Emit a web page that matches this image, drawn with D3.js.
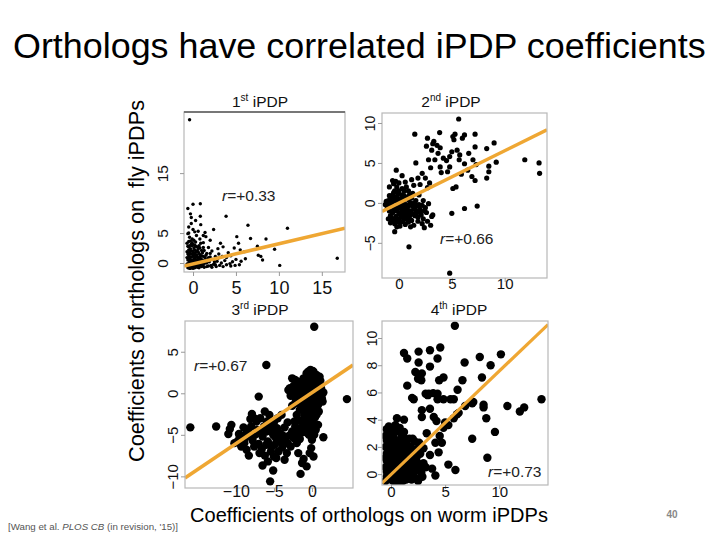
<!DOCTYPE html>
<html><head><meta charset="utf-8">
<script src="https://cdn.jsdelivr.net/npm/d3@7"></script>
<style>body{margin:0;background:#fff}svg{display:block}text{font-family:"Liberation Sans",Arial,sans-serif}</style>
</head><body>
<svg id="c" width="720" height="540"></svg>
<script>
// ---------- data ----------
const panelTitles = ["1", "2", "3", "4"];
const panelSup = ["st", "nd", "rd", "th"];
const rLabels = ["+0.33", "+0.66", "+0.67", "+0.73"];
// regression lines: [intercept, slope]
const fitLines = [[-0.15, 0.336], [-0.02, 0.655], [0.08, 0.615], [-0.03, 0.76]];
const xTicks = [[0, 5, 10, 15], [0, 5, 10], [-10, -5, 0], [0, 5, 10]];
const yTicks = [[0, 5, 15], [-5, 0, 5, 10], [-10, -5, 0, 5], [0, 2, 4, 6, 8, 10]];

const p1 = [[-0.4,23.9],[0,9.8],[0.85,9.9],[-0.3,8.2],[0.85,7.8],[3.85,7.8],[6.4,6.3],[11.0,5.8],[16.8,0.8],[10.1,-0.4],[9.5,2.3],[8.5,4.0],[6.7,4.1],[7.5,2.8],[5.1,4.4],[5.3,3.3],[5.5,2.2],[5.6,0.3],[7.6,1.3],[8.1,0.5],[7.9,1.1],[2.4,5.6],[1.5,4.4],[3.2,3.3],[3.5,2.7],[4.1,1.7],[0.9,6.4],[4.6,0.2],[4.3,-0.1],[3.3,0.0],[2.8,0.3],[6.1,0.7],[3.9,0.9],[2.2,2.0],[2.6,1.1],[1.8,2.6],[1.2,3.4],[2.0,3.8],[0.6,5.3],[-0.2,6.6],[0.3,7.1],[-0.5,5.0],[4.8,2.5],[6.0,1.9],[1.6,1.6],[3.0,1.5],[2.4,-0.2],[1.9,0.2],[3.7,0.4],[5.0,0.6],[4.4,1.2],[2.9,2.4],[1.4,5.1],[0.4,4.6],
[-0.6,-0.8],[-0.5,-0.3],[-0.4,0.2],[-0.3,0.6],[-0.2,1.0],[-0.1,1.5],[0.0,2.0],[0.1,2.5],[0.2,3.0],[0.3,3.5],[-0.6,0.5],[-0.5,1.2],[-0.4,1.8],[-0.3,2.4],[-0.2,3.2],[-0.1,4.0],[0.0,-0.5],[0.1,-0.1],[0.2,0.4],[0.3,0.9],[0.4,1.4],[0.5,1.9],[0.6,2.4],[0.7,2.9],[0.8,0.2],[0.9,0.7],[1.0,1.2],[1.1,1.7],[1.2,-0.3],[1.3,0.3],[0.5,-0.7],[0.7,-0.4],[0.9,-0.2],[1.1,0.5],[-0.6,2.8],[-0.5,3.6],[-0.4,4.3],[-0.3,-0.9],[-0.1,-0.6],[0.2,-0.8],[0.4,-0.3],[0.6,0.1],[0.8,1.0],[1.0,2.1],[1.2,2.6],[0.3,1.2],[0.1,0.7],[-0.2,0.1],[0.0,0.4],[0.4,0.0],[0.6,0.8],[-0.4,-0.5],[0.2,1.7],[0.5,2.7],[-0.1,2.9],[0.9,3.3],[1.4,0.9],[1.6,0.0],[1.8,-0.5],[1.5,1.3],[1.7,0.6],[2.0,1.0],[2.1,-0.4],[2.3,0.6],[2.6,-0.3],[2.0,1.6],[-0.5,2.2],[0.7,1.6],[1.3,2.1],[0.0,1.1],[-0.3,1.5],[0.3,-0.4],[1.0,-0.6],[0.1,3.8],[0.8,4.0],[-0.6,4.9],[0.0,5.6],
[-0.7,-0.2],[-0.7,0.9],[-0.7,1.9],[-0.7,3.3],[-0.6,-0.1],[-0.6,1.5],[-0.5,0.7],[-0.5,2.7],[-0.4,-0.9],[-0.4,1.0],[-0.4,2.9],[-0.3,0.1],[-0.3,3.7],[-0.2,-0.4],[-0.2,2.0],[-0.1,0.4],[-0.1,3.4],[0.0,-0.9],[0.0,1.6],[0.0,3.1],[0.1,0.1],[0.1,1.3],[0.2,-0.2],[0.2,2.2],[0.3,0.5],[0.3,2.8],[0.4,-0.6],[0.4,2.0],[0.5,0.4],[0.5,1.1],[0.6,-0.3],[0.6,1.9],[0.7,0.6],[0.7,-0.8],[0.8,1.4],[0.8,2.5],[0.9,-0.5],[1.0,0.4],[1.1,-0.1],[1.2,1.1],[1.3,-0.7],[1.4,0.0],[1.5,0.5],[1.6,-0.6],[1.8,0.9],[2.2,-0.7],[2.5,0.2],[2.7,-0.6],[3.1,-0.4],[3.5,-0.6],[3.9,-0.3],[4.4,-0.5],[4.9,-0.4],[5.4,-0.3],[2.9,0.8],[3.4,1.1],[1.2,4.6],[-0.5,6.0],[0.2,5.2],[-0.2,7.6],[-0.6,9.1]];

const p2 = [[5.65,10.5],[1.5,8.6],[3.85,8.8],[2.7,8.1],[3.3,7.7],[3.6,7.2],[5.1,8.3],[5.3,8.6],[5.2,7.9],[6.2,8.5],[6.0,8.1],[7.2,8.6],[7.2,7.0],[8.3,6.8],[9.0,7.5],[11.9,5.4],[13.25,5.0],[13.3,3.7],[9.2,5.1],[8.5,4.6],[8.5,3.9],[8.3,3.1],[7.4,-0.4],[6.2,-0.7],[5.0,-1.3],[5.4,2.0],[5.1,1.8],[0.95,-5.5],[4.8,-8.8],[3.2,-1.5],[3.1,-1.7],[2.4,-3.1],[2.2,-2.6],[1.6,5.0],[1.8,3.1],[2.2,3.7],[2.5,3.1],[2.8,5.4],[3.4,5.4],[3.7,6.2],[3.1,6.6],[3.2,7.4],[3.9,4.5],[4.2,5.6],[4.5,5.3],[4.8,5.8],[4.8,4.5],[4.6,3.9],[5.7,5.4],[5.75,6.0],[5.5,6.6],[6.2,4.9],[6.5,4.1],[7.0,5.4],[7.3,4.8],[6.9,3.3],[7.2,2.8],[5.9,3.6],[4.0,3.8],[3.0,4.4],[2.6,7.1],[3.9,6.9],[5.0,6.4],[6.6,6.2],[-0.25,4.1],[0.3,3.4],[1.2,2.9],[2.0,2.3],[2.9,2.5],
[-1.3,-0.2],[-1.0,0.3],[-0.8,0.6],[-0.6,1.0],[-0.4,1.5],[-0.2,2.0],[0.0,2.5],[-0.6,2.8],[-0.3,2.7],[-1.1,-0.6],[-0.9,-1.0],[-0.7,-0.3],[-0.5,0.2],[-0.3,-0.6],[-0.1,0.0],[0.1,0.5],[0.3,1.0],[0.5,1.5],[0.7,2.0],[0.9,0.4],[1.1,0.0],[1.3,-0.4],[1.5,-0.8],[1.7,-1.2],[1.9,-0.2],[2.1,-1.5],[2.3,-2.0],[2.5,-0.6],[-0.8,-1.6],[-0.6,-2.1],[-0.4,-2.6],[-0.2,-3.0],[0.0,-1.4],[0.2,-1.8],[0.4,-2.3],[0.6,-2.7],[0.8,-1.0],[1.0,-1.6],[1.2,-2.2],[1.4,-2.8],[-0.4,-3.6],[0.1,-2.9],[0.6,-0.5],[0.2,-0.3],[-0.2,0.8],[0.4,0.2],[0.8,-2.0],[1.6,0.3],[1.8,-1.8],[2.0,-0.8],[-1.0,-2.0],[-0.6,-1.2],[0.0,0.0],[0.3,-1.0],[0.5,-1.3],[0.7,-0.2],[1.0,1.0],[-0.3,-1.7],[1.2,0.6],[1.5,-1.6],[0.9,-2.4],[-0.1,-2.4],[0.3,1.8],[-0.5,2.4],[0.6,2.6],[1.1,-3.0],[2.3,0.3],[1.9,1.0],[2.6,-1.2],[-0.8,-2.5],[0.0,1.5],[0.5,0.9],
[-1.2,0.2],[-1.0,-0.3],[-0.9,0.9],[-0.7,0.1],[-0.7,-1.9],[-0.5,-0.8],[-0.5,1.3],[-0.3,0.3],[-0.3,-2.1],[-0.2,-1.0],[-0.1,1.1],[0.0,-0.6],[0.0,-2.0],[0.1,-1.2],[0.2,0.0],[0.2,-2.4],[0.3,-0.5],[0.4,-1.5],[0.4,0.6],[0.5,-0.2],[0.5,-2.0],[0.6,-1.0],[0.7,-1.6],[0.7,0.7],[0.8,-0.6],[0.9,-1.3],[1.0,-0.3],[1.0,-2.0],[1.1,-1.0],[1.2,-0.1],[1.3,-1.4],[1.4,-0.6],[1.5,0.0],[1.6,-1.0],[1.7,-0.4],[1.8,-2.3],[2.0,-1.2],[2.2,-0.3],[2.4,-1.0],[2.7,-2.3],[1.3,1.2],[0.9,1.5],[-0.9,2.0],[-0.4,0.6],[0.1,0.2],[2.8,-0.1],[3.0,-2.8],[2.7,1.9],[1.4,2.2]];

const p3 = [[0.3,8.0],[-6.0,3.4],[4.6,-0.7],[-16.0,-4.1],[-12.6,-4.0],[-10.8,-4.3],[-11.0,-4.9],[-10.6,-3.8],[-7.0,-0.4],[-5.5,-10.6],[-5.1,-9.3],[-6.5,-8.7],[-1.5,-9.7],[-1.3,-8.4],[-1.1,-7.9],[-0.7,-8.8],[0.2,-7.6],[-0.1,-6.6],[-0.3,-7.2],[1.5,-5.3],[-7.9,-2.5],[-7.6,-3.0],[-8.1,-3.1],[-7.3,-3.4],[-2.6,1.8],[-2.2,1.6],[-0.5,2.6],[-0.2,2.8],[0.2,2.6],[-9.8,-5.8],[-9.3,-6.4],[-8.6,-6.8],[-8.3,-7.5],[-9.6,-4.9],[-9.0,-4.1],[-8.4,-4.5],[-8.8,-5.4],[-7.8,-5.7],[-7.0,-6.1],[-6.6,-6.7],[-6.2,-7.5],[-5.8,-8.2],[-5.0,-7.6],[-4.4,-7.0],[-3.9,-6.5],[-3.5,-5.8],[-3.0,-5.1],[-2.6,-4.6],[-2.2,-4.0],[-2.8,-6.4],[-2.0,-6.0],[-1.6,-5.5],[-1.2,-4.7],[-0.8,-4.2],[-0.4,-5.0],[0.0,-5.6],[-5.5,-4.0],[-5.0,-3.5],[-4.5,-3.0],[-4.0,-2.6],[-6.0,-4.6],[-6.5,-5.2],[-5.8,-5.8],[-5.3,-6.4],[-4.8,-5.3],[-4.2,-4.8],[-3.6,-4.1],[-3.2,-3.5],[-6.8,-3.0],[-6.2,-2.2],[-5.6,-2.6],[-4.0,-5.7],[-3.3,-7.2],[-1.8,-7.2],[-7.2,-4.4],[-8.0,-4.0],[-10.2,-6.0],[-6.0,-6.2],[-5.1,-5.0],[-4.6,-4.2],[0.8,-3.8],[0.5,-4.4],[-0.9,-2.8],[-1.5,-3.3],
[-2.5,0.2],[-2.0,0.5],[-1.6,0.2],[-1.2,0.8],[-0.8,1.4],[-0.4,2.0],[0.0,2.3],[0.4,1.8],[0.8,1.2],[1.2,0.6],[1.5,0.1],[-1.8,-0.6],[-1.4,-1.0],[-1.0,-0.4],[-0.6,0.2],[-0.2,0.8],[0.2,1.0],[0.6,0.4],[1.0,-0.2],[-1.2,-1.8],[-0.8,-1.3],[-0.4,-0.7],[0.0,-0.2],[0.4,-0.8],[0.8,-1.4],[-0.6,-2.2],[-0.2,-1.6],[0.2,-2.0],[0.6,-2.6],[-0.4,-3.0],[0.0,-3.4],[-1.0,-2.6],[-1.6,-2.0],[-2.2,-1.2],[-2.8,-0.3],[-3.1,0.4],[-0.2,1.6],[0.3,0.2],[-0.9,0.5],[1.1,1.5],[-0.1,-1.1],[0.5,-1.5],[-1.3,0.0],[0.9,0.3],[-0.5,1.1],[0.1,2.7],[-0.7,2.4],[-1.5,1.1],[-2.2,-0.5],[0.7,-0.6],[1.3,-0.6],[-0.3,0.5],[0.0,0.9],[-1.8,0.9],[-2.6,-1.5],[-1.2,-3.5],[0.3,-3.8],[-0.8,-4.6],
[-2.0,-0.2],[-1.6,-0.5],[-1.2,0.3],[-0.9,-0.2],[-0.7,0.9],[-0.5,-0.4],[-0.3,1.3],[-0.1,0.2],[0.1,-0.5],[0.3,0.7],[0.5,1.3],[0.6,-0.1],[0.8,-0.6],[1.0,0.8],[1.2,0.0],[1.4,-1.0],[0.2,-1.3],[-0.6,-1.0],[-1.0,-1.3],[-1.4,-1.4],[-0.3,-2.5],[0.4,-2.9],[-0.9,-3.4],[0.0,-4.2],[-0.5,-4.8],[0.3,-5.0],[-1.8,1.4],[-2.4,0.9],[-2.9,0.6],[-1.1,1.8],[-0.3,2.4],[0.6,2.2],[1.0,2.0],[0.9,-2.2],[-0.1,-3.8],[-2.0,-2.6],[-1.5,-4.2],[-2.3,-3.4],
[-9.5,-5.3],[-8.9,-6.0],[-8.1,-5.0],[-7.5,-5.0],[-6.8,-4.8],[-6.3,-4.0],[-5.9,-3.4],[-5.2,-4.6],[-4.9,-6.2],[-4.4,-5.8],[-3.8,-5.1],[-3.2,-6.0],[-2.4,-5.4],[-1.9,-4.8],[-5.4,-7.0],[-6.9,-7.2],[-4.7,-7.8],[-3.6,-8.0],[-7.6,-6.4],[-8.7,-4.9]];

const p4 = [[5.9,10.9],[1.2,8.9],[1.5,8.5],[2.55,9.0],[3.6,9.1],[4.55,9.3],[4.3,8.5],[2.55,8.2],[3.6,7.9],[2.25,7.5],[2.85,7.4],[1.5,6.5],[2.5,7.0],[2.8,6.9],[4.85,7.1],[4.45,6.9],[6.8,8.2],[6.6,6.9],[6.15,6.2],[8.2,8.6],[9.2,8.0],[10.15,8.8],[8.4,7.1],[3.2,5.9],[3.5,5.9],[3.4,5.8],[3.9,5.95],[4.3,5.9],[1.95,5.6],[2.1,5.5],[5.5,5.5],[5.8,5.5],[4.3,5.5],[4.85,5.5],[2.85,4.7],[3.6,4.8],[2.85,4.2],[3.95,4.2],[4.2,3.9],[6.85,5.0],[7.5,5.2],[7.6,5.3],[8.55,4.9],[8.55,5.1],[10.75,5.0],[11.9,4.6],[12.3,4.9],[13.9,5.5],[8.8,4.1],[9.6,3.1],[7.5,2.6],[8.9,1.2],[5.3,0.7],[5.95,0.3],[4.1,-0.1],[3.8,0.4],[4.1,2.3],[4.7,2.3],[4.5,2.8],[0.55,4.1],[1.2,4.0],[-0.2,3.5],[1.2,3.1],[4.85,3.4],[5.3,3.6],[5.8,4.1],[6.1,4.4],[6.25,4.5],[5.0,3.8],[3.3,3.0],[2.6,2.3],[3.0,1.9],[2.2,2.4],[3.2,0.5],[2.6,0.3],[2.9,-0.2],[4.4,1.6],[3.6,1.4],[2.0,1.6],
[-0.5,-0.5],[-0.3,0.0],[-0.1,0.5],[0.1,1.0],[0.3,1.5],[0.5,2.0],[0.7,2.5],[0.9,3.0],[-0.4,1.0],[-0.2,1.6],[0.0,2.2],[0.2,2.8],[-0.3,3.0],[-0.1,2.6],[-0.5,2.0],[-0.4,1.5],[0.0,-0.4],[0.2,0.2],[0.4,0.7],[0.6,1.2],[0.8,1.7],[1.0,2.2],[1.2,2.7],[1.0,0.0],[1.2,0.5],[1.4,1.0],[1.6,1.5],[1.8,2.0],[1.5,-0.3],[1.7,0.2],[1.9,0.7],[2.1,1.2],[2.3,1.7],[2.0,-0.2],[2.2,0.4],[2.4,0.9],[0.5,-0.5],[0.7,-0.2],[0.9,0.4],[1.1,0.9],[1.3,1.4],[1.5,1.9],[0.3,-0.1],[-0.2,0.3],[0.1,-0.3],[0.6,0.3],[0.8,0.8],[0.4,1.1],[0.2,1.3],[0.0,0.7],[-0.3,0.9],[0.5,1.7],[0.7,1.0],[1.3,-0.2],[1.1,-0.5],[1.6,0.6],[1.8,1.1],[2.6,2.2],[2.8,0.1],[2.5,-0.5],[1.4,2.4],[1.1,3.0],[0.6,3.2],[0.3,2.4],[-0.4,2.5],[1.7,2.6],[0.9,2.0],[2.0,2.6],[0.1,3.3],[-0.2,-0.2],[0.8,-0.5],[1.9,-0.4],
[-0.5,0.5],[-0.5,1.2],[-0.5,2.8],[-0.4,0.2],[-0.4,-0.2],[-0.3,1.9],[-0.3,2.3],[-0.2,0.9],[-0.2,1.2],[-0.1,0.0],[-0.1,2.0],[0.0,1.3],[0.0,1.8],[0.1,0.4],[0.1,2.4],[0.2,-0.5],[0.2,1.9],[0.3,0.5],[0.3,0.9],[0.4,-0.4],[0.4,2.2],[0.5,0.1],[0.5,1.4],[0.6,0.7],[0.6,2.4],[0.7,1.4],[0.7,0.0],[0.8,0.3],[0.8,2.3],[0.9,1.2],[1.0,0.6],[1.0,1.6],[1.1,0.2],[1.2,1.2],[1.2,2.0],[1.3,0.6],[1.4,-0.4],[1.4,1.6],[1.5,0.4],[1.6,1.1],[1.7,-0.1],[1.8,0.5],[1.9,1.5],[2.0,0.9],[2.1,0.1],[2.2,1.8],[2.3,-0.3],[2.4,1.3],[2.6,0.6],[2.7,1.5],[3.0,0.8],[0.2,3.0],[-0.4,3.3],[0.4,3.6],[0.8,3.4]];

const panelData = [p1, p2, p3, p4];
const xDomains = [[-1.05, 17.7], [-1.6, 14.0], [-16.7, 5.4], [-0.83, 14.5]];
const yDomains = [[-1.5, 25.2], [-9.4, 11.25], [-11.4, 8.7], [-0.8, 11.25]];

// ---------- layout ----------
const layout = [
  {x0:184, x1:345, y0:112, y1:272, r:1.7, tf:18, ylx:168, xly:294, title:[260,107], rl:[222,201], lw:3.5, yfs:15.5},
  {x0:382, x1:547, y0:113, y1:278, r:2.6, tf:15, ylx:375, xly:289, title:[451,107], rl:[440,244], lw:3.5, yfs:14},
  {x0:185, x1:353, y0:321, y1:488, r:4.2, tf:16, ylx:178, xly:497, title:[260,315], rl:[194,371], lw:3.5, yfs:15},
  {x0:382, x1:548, y0:321, y1:485, r:4.2, tf:15, ylx:377, xly:497, title:[459,315], rl:[488,477], lw:3.2, yfs:14}
];
const ORANGE = "#EFA733";

const svg = d3.select("#c");
const fmt = v => (v < 0 ? "\u2212" + Math.abs(v) : String(v));

function fitText(sel, w) {
  const n = sel.node();
  const fs = parseFloat(sel.attr("font-size"));
  const len = n.getComputedTextLength();
  sel.attr("font-size", (fs * w / len).toFixed(2));
}

// title
const title = svg.append("text").attr("x", 13).attr("y", 58).attr("font-size", 32)
  .attr("fill", "#000").text("Orthologs have correlated iPDP coefficients");
fitText(title, 693);

panelData.forEach((data, i) => {
  const L = layout[i];
  const x = d3.scaleLinear().domain(xDomains[i]).range([L.x0, L.x1]);
  const y = d3.scaleLinear().domain(yDomains[i]).range([L.y1, L.y0]);
  const g = svg.append("g");
  const cid = "clip" + i;
  svg.append("clipPath").attr("id", cid).append("rect")
    .attr("x", L.x0).attr("y", L.y0).attr("width", L.x1 - L.x0).attr("height", L.y1 - L.y0);

  // points
  g.append("g").attr("clip-path", `url(#${cid})`).selectAll("circle").data(data).join("circle")
    .attr("cx", d => x(d[0])).attr("cy", d => y(d[1])).attr("r", L.r).attr("fill", "#000");

  // regression line
  const [a, b] = fitLines[i];
  const xd = xDomains[i];
  g.append("line").attr("clip-path", `url(#${cid})`)
    .attr("x1", x(xd[0])).attr("y1", y(a + b * xd[0]))
    .attr("x2", x(xd[1])).attr("y2", y(a + b * xd[1]))
    .attr("stroke", ORANGE).attr("stroke-width", L.lw);

  // box
  g.append("rect").attr("x", L.x0).attr("y", L.y0).attr("width", L.x1 - L.x0).attr("height", L.y1 - L.y0)
    .attr("fill", "none").attr("stroke", "#b8b8b8").attr("stroke-width", 1.2);
  if (i === 0) g.append("line").attr("x1", L.x0).attr("x2", L.x1).attr("y1", L.y0).attr("y2", L.y0)
    .attr("stroke", "#777").attr("stroke-width", 2);

  // x axis
  const xa = d3.axisBottom(x).tickValues(xTicks[i]).tickFormat(fmt).tickSize(4).tickPadding(3);
  const gx = g.append("g").attr("transform", `translate(0,${L.y1})`).call(xa);
  gx.select(".domain").remove();
  gx.selectAll(".tick line").attr("stroke", "#999");
  gx.selectAll(".tick text").attr("font-size", L.tf).attr("font-family", "Liberation Sans, Arial, sans-serif")
    .attr("fill", "#111").attr("dy", null).attr("y", L.xly - L.y1);

  // y axis
  const ya = d3.axisLeft(y).tickValues(yTicks[i]).tickFormat(fmt).tickSize(4);
  const gy = g.append("g").attr("transform", `translate(${L.x0},0)`).call(ya);
  gy.select(".domain").remove();
  gy.selectAll(".tick line").attr("stroke", "#999");
  gy.selectAll(".tick text").attr("font-size", L.yfs).attr("font-family", "Liberation Sans, Arial, sans-serif")
    .attr("fill", "#111").attr("x", null).attr("dy", null)
    .attr("text-anchor", "middle")
    .attr("transform", `translate(${L.ylx - L.x0},0) rotate(-90)`);

  // panel title
  const t = svg.append("text").attr("x", L.title[0]).attr("y", L.title[1]).attr("text-anchor", "middle")
    .attr("font-size", 15.5).attr("fill", "#111");
  t.append("tspan").text(panelTitles[i]);
  t.append("tspan").attr("font-size", 10).attr("dy", -6).text(panelSup[i]);
  t.append("tspan").attr("dy", 6).text(" iPDP");

  // r label
  const r = svg.append("text").attr("x", L.rl[0]).attr("y", L.rl[1]).attr("font-size", 15.5).attr("fill", "#222");
  r.append("tspan").attr("font-style", "italic").text("r");
  r.append("tspan").text("=" + rLabels[i]);
});

// axis labels
const yl = svg.append("text").attr("transform", "translate(144,281) rotate(-90)").attr("text-anchor", "middle")
  .attr("font-size", 18).attr("fill", "#000").attr("xml:space", "preserve")
  .style("white-space", "pre").text("Coefficients of orthologs on  fly iPDPs");
fitText(yl, 362);
const xl = svg.append("text").attr("x", 369).attr("y", 522).attr("text-anchor", "middle")
  .attr("font-size", 18).attr("fill", "#000").text("Coefficients of orthologs on worm iPDPs");
fitText(xl, 358);

// citation
const cit = svg.append("text").attr("x", 8).attr("y", 530).attr("font-size", 11).attr("fill", "#555");
cit.append("tspan").text("[Wang et al. ");
cit.append("tspan").attr("font-style", "italic").text("PLOS CB");
cit.append("tspan").text(" (in revision, '15)]");
fitText(cit, 170);

svg.append("text").attr("x", 672).attr("y", 518).attr("text-anchor", "middle").attr("font-size", 10)
  .attr("font-weight", "bold").attr("fill", "#888").text("40");
</script>
</body></html>
